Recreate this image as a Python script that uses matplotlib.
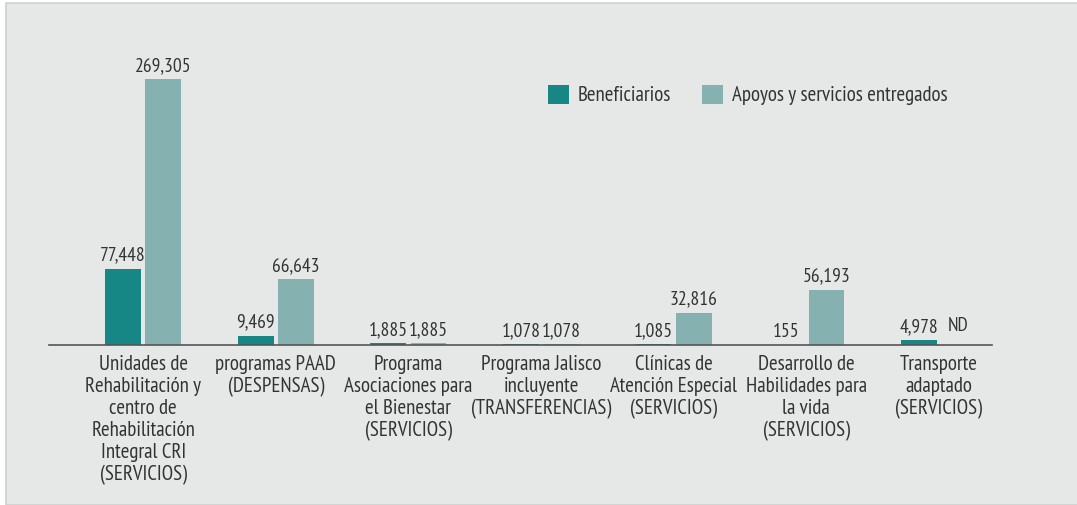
import matplotlib.pyplot as plt
import numpy as np
from matplotlib.patches import Rectangle

plt.rcParams['font.family'] = ['PT Sans Narrow', 'DejaVu Sans']

# categorias y valores
programas = ["Unidades de\nRehabilitación y\ncentro de\nRehabilitación\nIntegral CRI\n(SERVICIOS)",
             "programas PAAD\n(DESPENSAS)",
             "Programa\nAsociaciones para\nel Bienestar\n(SERVICIOS)",
             "Programa Jalisco\nincluyente\n(TRANSFERENCIAS)",
             "Clínicas de\nAtención Especial\n(SERVICIOS)",
             "Desarrollo de\nHabilidades para\nla vida\n(SERVICIOS)",
             "Transporte\nadaptado\n(SERVICIOS)"]
beneficiarios = [77448, 9469, 1885, 1078, 1085, 155, 4978]
apoyos = [269305, 66643, 1885, 1078, 32816, 56193, None]  # None = ND

c_benef = '#168784'
c_apoyo = '#86b1b1'
txt = '#333333'

fig = plt.figure(figsize=(10.77, 5.05), dpi=100, facecolor='white')
fig.patches.append(Rectangle((6/1077, 0), 1, 1 - 3/505, transform=fig.transFigure,
                             facecolor='#e6e8e7', edgecolor='#cfd1d0', lw=1.2, zorder=-10))

ax = fig.add_axes([49/1077, 1 - 345/505, (992 - 49)/1077, (345 - 48.7)/505])
ax.set_facecolor('none')
ax.set_zorder(5)

x = np.arange(len(programas))
w = 0.27
off = 0.152
ap_vals = [v if v is not None else 0 for v in apoyos]
ax.bar(x - off, beneficiarios, w, color=c_benef, label='Beneficiarios')
ax.bar(x + off, ap_vals, w, color=c_apoyo, label='Apoyos y servicios entregados')

for xi, v in zip(x, beneficiarios):
    ax.annotate(f"{v:,}", (xi - off, v), xytext=(0, 3), textcoords='offset points',
                ha='center', va='bottom', fontsize=14, color=txt)
for xi, v in zip(x, apoyos):
    lab = f"{v:,}" if v is not None else "ND"
    ax.annotate(lab, (xi + off, v or 0), xytext=(-1 if v is None else 0, 7 if v is None else 3),
                textcoords='offset points', ha='center', va='bottom', fontsize=14, color=txt)

ax.set_xlim(-0.71, 6.40)
ax.set_ylim(0, 300000)
ax.set_xticks(x)
ax.set_xticklabels(programas, fontsize=15, color=txt, linespacing=1.2)
ax.tick_params(axis='x', length=0, pad=7)
ax.set_yticks([])
for s in ['top', 'right', 'left']:
    ax.spines[s].set_visible(False)
ax.spines['bottom'].set_color('#555555')
ax.spines['bottom'].set_linewidth(1.2)

ax.legend(loc='upper left', bbox_to_anchor=(548/1077, 1 - 85/505), bbox_transform=fig.transFigure,
          ncol=2, frameon=False, fontsize=15, borderpad=0, borderaxespad=0,
          handlelength=1.0, handleheight=1.0, handletextpad=0.42, columnspacing=1.5,
          labelcolor=txt)

fig.savefig('out.png', dpi=100, facecolor=fig.get_facecolor())
